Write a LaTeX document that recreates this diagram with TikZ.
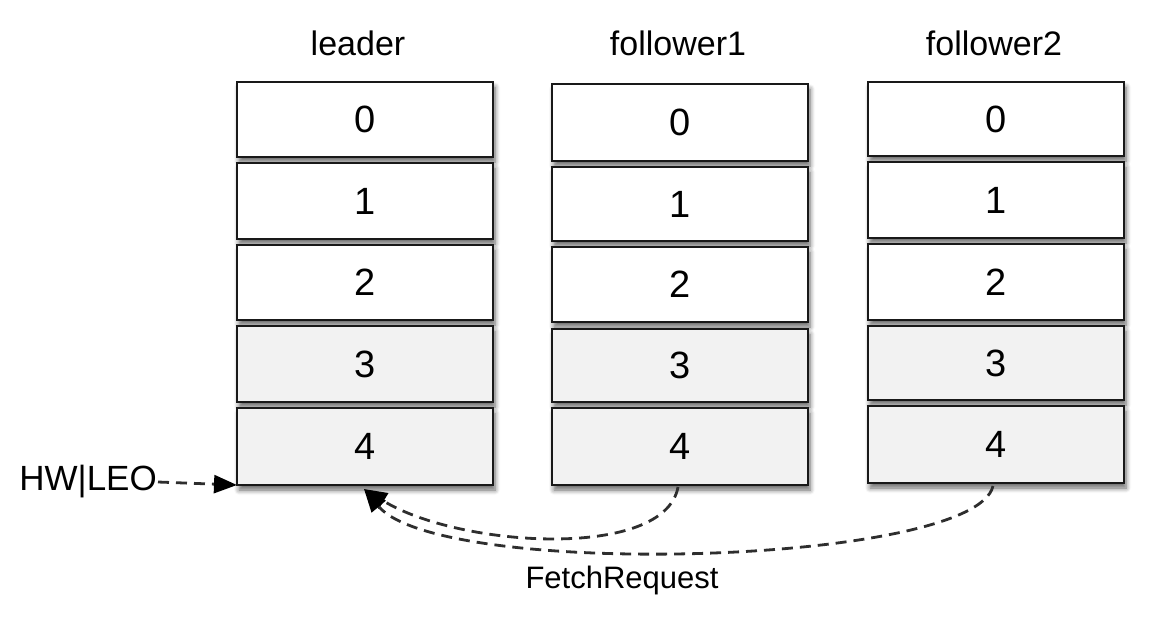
\documentclass[tikz,border=0pt]{standalone}
\usepackage{fontspec}
\setmainfont{Liberation Sans}
\usetikzlibrary{arrows.meta,shadows.blur}
\definecolor{cellgray}{HTML}{F2F2F2}
\definecolor{dashgray}{HTML}{2E2E2E}
\tikzset{
  cell/.style={draw=black!90, line width=2.8pt, fill=white, minimum width=256pt,
    inner sep=0pt, outer sep=0pt, font=\fontsize{38}{42}\selectfont,
    blur shadow={shadow xshift=2pt, shadow yshift=-5pt, shadow blur steps=6,
      shadow blur radius=5pt, shadow opacity=60}},
  graycell/.style={cell, fill=cellgray},
  collabel/.style={anchor=base, inner sep=0pt, font=\fontsize{34}{38}\selectfont},
  dashline/.style={draw=dashgray, line width=2.8pt, dash pattern=on 11pt off 7pt},
  tip/.style={-{Triangle[length=23pt,width=18pt,color=black]}}
}
\begin{document}
\begin{tikzpicture}[x=1pt,y=-1pt]
\useasboundingbox (0,0) rectangle (1156,633);
% leader
\node[cell, minimum height=75pt] (l0) at (365,119.5) {0};
\node[cell, minimum height=76pt] (l1) at (365,201) {1};
\node[cell, minimum height=75pt] (l2) at (365,282.5) {2};
\node[graycell, minimum height=76pt] (l3) at (365,364) {3};
\node[graycell, minimum height=77pt] (l4) at (365,446.5) {4};
% follower1
\node[cell, minimum height=77pt] (a0) at (680,122.5) {0};
\node[cell, minimum height=74pt] (a1) at (680,204) {1};
\node[cell, minimum height=75pt] (a2) at (680,284.5) {2};
\node[graycell, minimum height=73pt] (a3) at (680,365.5) {3};
\node[graycell, minimum height=77pt] (a4) at (680,446.5) {4};
% follower2
\node[cell, minimum height=74pt] (b0) at (996,119) {0};
\node[cell, minimum height=76pt] (b1) at (996,200) {1};
\node[cell, minimum height=76pt] (b2) at (996,282) {2};
\node[graycell, minimum height=74pt] (b3) at (996,363) {3};
\node[graycell, minimum height=77pt] (b4) at (996,444.5) {4};
% labels
\node[collabel] (tl) at (358,55) {leader};
\node[collabel] (ta) at (678,55) {follower1};
\node[collabel] (tb) at (994,55) {follower2};
\node[anchor=base, inner sep=0pt, font=\fontsize{31}{35}\selectfont] (fr) at (622,588) {FetchRequest};
\node[anchor=east, inner sep=1pt, font=\fontsize{35}{39}\selectfont] (hw) at (158,482) {HW|LEO};
% connectors
\coordinate (tipc) at (364,489);
\coordinate (sa) at (678,487);
\coordinate (sb) at (993,486);
\draw[dashline, tip] (hw.east) -- (l4.south west);
\draw[dashline, tip] (sa) .. controls (665,560) and (460,548) .. (tipc);
\draw[dashline, tip] (sb) .. controls (975,565) and (440,580) .. (tipc);
\end{tikzpicture}
\end{document}
